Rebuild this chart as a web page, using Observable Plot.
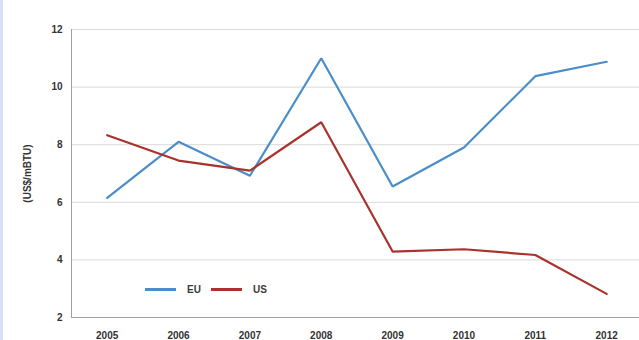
<!DOCTYPE html>
<html>
<head>
<meta charset="utf-8">
<script src="https://cdn.jsdelivr.net/npm/d3@7"></script>
<script src="https://cdn.jsdelivr.net/npm/@observablehq/plot@0.6"></script>
<style>
  html, body { margin: 0; padding: 0; background: #fff; }
  #wrap { position: relative; width: 639px; height: 340px; overflow: hidden; }
  #edge { position: absolute; left: 0; top: 0; width: 3px; height: 340px; background: #d4e3f3; }
  #legend { position: absolute; left: 145px; top: 284px; display: flex; align-items: center;
            font: bold 10px "Liberation Sans", Arial, sans-serif; color: #3a3a3a; }
  #legend .item { display: flex; align-items: center; margin-right: 10px; }
  #legend .sw { width: 31px; height: 3px; margin-right: 11px; }
</style>
</head>
<body>
<div id="wrap"><div id="edge"></div></div>
<script>
// Natural gas prices, EU vs US
const years = [2005, 2006, 2007, 2008, 2009, 2010, 2011, 2012];
const euPrice = [6.15, 8.1, 6.92, 11.0, 6.55, 7.9, 10.38, 10.88];
const usPrice = [8.33, 7.45, 7.1, 8.78, 4.29, 4.37, 4.17, 2.82];
const yTicks = [2, 4, 6, 8, 10, 12];
const seriesNames = ["EU", "US"];
const seriesColors = ["#4a8dc8", "#a8322e"];

const rows = [
  ...years.map((year, i) => ({year, price: euPrice[i], region: "EU"})),
  ...years.map((year, i) => ({year, price: usPrice[i], region: "US"}))
];

const font = '"Liberation Sans", Arial, sans-serif';

const chart = Plot.plot({
  width: 639,
  height: 340,
  marginLeft: 71,
  marginRight: 0,
  marginTop: 29,
  marginBottom: 23,
  style: {fontFamily: font, fontSize: "10px", fontWeight: "bold", color: "#333", background: "transparent"},
  x: {
    domain: [2004.5, 2012.46],
    ticks: years,
    tickFormat: d => String(d),
    tickSize: 0,
    tickPadding: 14,
    label: null
  },
  y: {
    domain: [2, 12],
    ticks: yTicks,
    tickSize: 0,
    tickPadding: 9,
    label: "(US$/mBTU)",
    labelAnchor: "center",
    labelArrow: "none",
    labelOffset: 48
  },
  color: {domain: seriesNames, range: seriesColors},
  marks: [
    Plot.gridY(yTicks, {stroke: "#d9d9d9", strokeOpacity: 1, strokeWidth: 1}),
    Plot.ruleX([2004.5], {stroke: "#a0a0a0", strokeWidth: 1}),
    Plot.ruleY([2], {stroke: "#a0a0a0", strokeWidth: 1}),
    Plot.line(rows, {x: "year", y: "price", stroke: "region", strokeWidth: 2.2, strokeLinejoin: "miter"})
  ]
});

document.getElementById("wrap").appendChild(chart);

// Legend inside the plot area
const legend = document.createElement("div");
legend.id = "legend";
seriesNames.forEach((name, i) => {
  const item = document.createElement("div");
  item.className = "item";
  const sw = document.createElement("div");
  sw.className = "sw";
  sw.style.background = seriesColors[i];
  const label = document.createElement("span");
  label.textContent = name;
  item.appendChild(sw);
  item.appendChild(label);
  legend.appendChild(item);
});
document.getElementById("wrap").appendChild(legend);
</script>
</body>
</html>
